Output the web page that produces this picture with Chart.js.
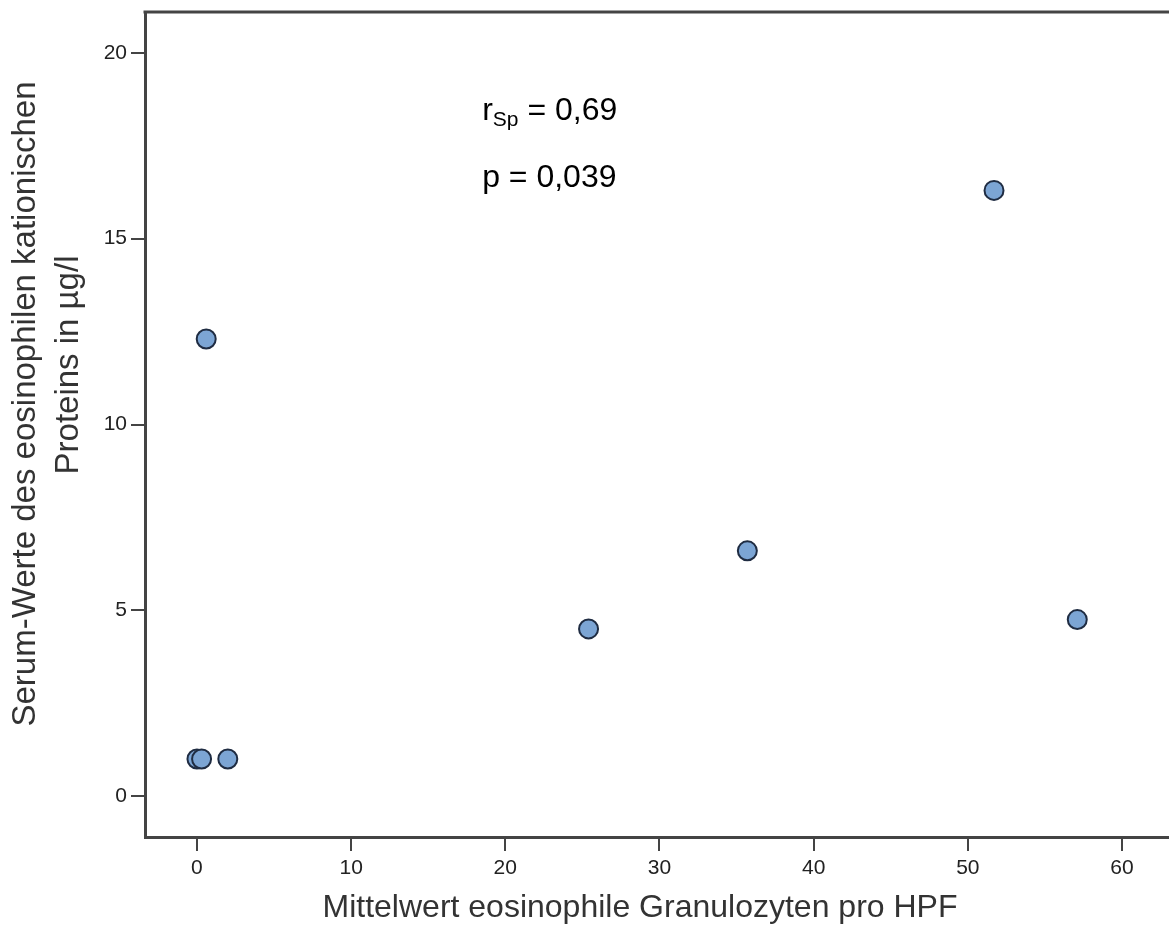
<!DOCTYPE html>
<html>
<head>
<meta charset="utf-8">
<script src="https://cdn.jsdelivr.net/npm/chart.js@4.4.0/dist/chart.umd.min.js"></script>
<style>
  body { margin: 0; background: #fff; overflow: hidden; }
  canvas { display: block; }
</style>
</head>
<body>
<canvas id="myChart" width="1169" height="937"></canvas>
<script>
// eosinophile pro HPF (x) vs. Serum-ECP in µg/l (y)
var granulozyten = [0, 0.3, 2.0, 0.6, 25.4, 35.7, 57.1, 51.7];
var serumEcp = [1.0, 1.0, 1.0, 12.3, 4.5, 6.6, 4.75, 16.3];
var xTitle = "Mittelwert eosinophile Granulozyten pro HPF";
var yTitle = ["Serum-Werte des eosinophilen kationischen", "Proteins in µg/l"];
var statLines = [["r", "Sp", " = 0,69"], ["p", "", " = 0,039"]];

var FONT = '"Liberation Sans", Arial, sans-serif';
var AXIS = "#444";

var points = granulozyten.map(function (x, i) {
  return { x: x, y: serumEcp[i] };
});

// frame top line, axis titles and the correlation text
const extras = {
  id: "extras",
  afterDraw(chart) {
    const { ctx, chartArea, scales: { x, y } } = chart;
    ctx.save();

    ctx.strokeStyle = AXIS;
    ctx.lineWidth = 3;
    ctx.beginPath();
    ctx.moveTo(chartArea.left - 1.5, chartArea.top);
    ctx.lineTo(chart.width, chartArea.top);
    ctx.stroke();

    ctx.fillStyle = "#333";
    ctx.font = "32px " + FONT;
    ctx.textAlign = "center";
    ctx.textBaseline = "alphabetic";
    ctx.fillText(xTitle, 640, 917);

    ctx.font = "33px " + FONT;
    ctx.save();
    ctx.translate(35, 404);
    ctx.rotate(-Math.PI / 2);
    ctx.fillText(yTitle[0], 0, 0);
    ctx.restore();
    ctx.save();
    ctx.translate(78, 365);
    ctx.rotate(-Math.PI / 2);
    ctx.fillText(yTitle[1], 0, 0);
    ctx.restore();

    ctx.fillStyle = "#000";
    ctx.textAlign = "left";
    var left = x.getPixelForValue(18.5);
    var baselines = [y.getPixelForValue(18.2), y.getPixelForValue(16.4)];
    statLines.forEach(function (parts, i) {
      var px = left;
      ctx.font = "32px " + FONT;
      ctx.fillText(parts[0], px, baselines[i]);
      px += ctx.measureText(parts[0]).width;
      if (parts[1]) {
        ctx.font = "21px " + FONT;
        ctx.fillText(parts[1], px, baselines[i] + 6);
        px += ctx.measureText(parts[1]).width;
      }
      ctx.font = "32px " + FONT;
      ctx.fillText(parts[2], px, baselines[i]);
    });
    ctx.restore();
  },
};

const config = {
  type: "scatter",
  data: {
    datasets: [
      {
        data: points,
        backgroundColor: "#7ca5d4",
        borderColor: "#1f2c42",
        borderWidth: 2,
        pointRadius: 9.5,
      },
    ],
  },
  options: {
    responsive: false,
    animation: false,
    devicePixelRatio: 1,
    layout: { autoPadding: false, padding: { top: 12, right: 0, left: 0, bottom: 0 } },
    plugins: { legend: { display: false }, tooltip: { enabled: false } },
    scales: {
      x: {
        type: "linear",
        min: -3.37,
        max: 63.05,
        afterFit: function (scale) {
          scale.height = 100;
          scale.paddingLeft = 0;
          scale.paddingRight = 0;
        },
        border: { display: true, color: AXIS, width: 3 },
        grid: { drawOnChartArea: false, drawTicks: true, tickLength: 14, color: AXIS, lineWidth: 2 },
        ticks: {
          stepSize: 10,
          includeBounds: false,
          padding: 5,
          color: "#222",
          font: { family: FONT, size: 21 },
        },
      },
      y: {
        type: "linear",
        min: -1.1,
        max: 21.1,
        afterFit: function (scale) {
          scale.width = 145;
          scale.paddingTop = 0;
          scale.paddingBottom = 0;
        },
        border: { display: true, color: AXIS, width: 3 },
        grid: { drawOnChartArea: false, drawTicks: true, tickLength: 14, color: AXIS, lineWidth: 2 },
        ticks: {
          stepSize: 5,
          includeBounds: false,
          padding: 4,
          color: "#222",
          font: { family: FONT, size: 21 },
        },
      },
    },
  },
  plugins: [extras],
};

var chart = new Chart(document.getElementById("myChart"), config);
</script>
</body>
</html>
